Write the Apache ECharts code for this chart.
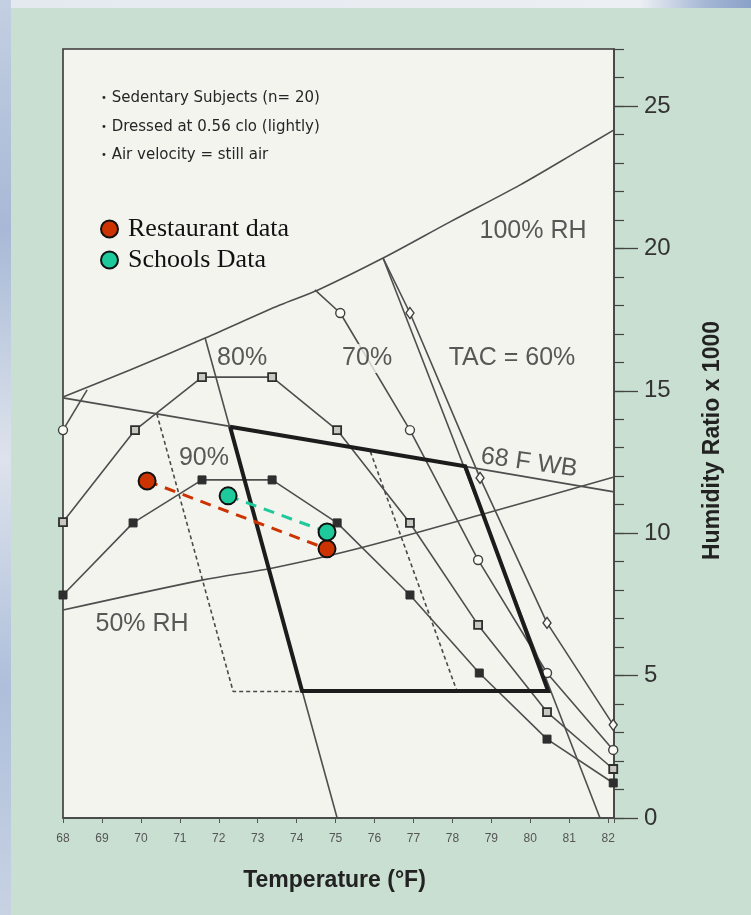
<!DOCTYPE html>
<html>
<head>
<meta charset="utf-8">
<script src="https://cdn.jsdelivr.net/npm/echarts@6/dist/echarts.min.js"></script>
<style>
  html, body { margin: 0; padding: 0; width: 751px; height: 915px; overflow: hidden; }
  body { background: linear-gradient(180deg, #c3cfe2 0%, #a7b9d6 25%, #dde3ec 50%, #aebfdb 75%, #c7d2e3 100%); }
  #topband { position: absolute; left: 11px; top: 0; right: 0; height: 8px;
             background: linear-gradient(90deg, #e4e9f0 0%, #eceff3 85%, #a4b6d4 94%, #8aa1c8 100%); }
  #panel { position: absolute; left: 11px; top: 8px; right: 0; bottom: 0; background: #c9dfd1; }
  #chart { position: absolute; left: 0; top: 0; width: 751px; height: 915px; }
</style>
</head>
<body>
<div id="topband"></div>
<div id="panel"></div>
<div id="chart"></div>
<script>
// ---- Psychrometric reference curves: [dry-bulb °F, humidity ratio x 1000] ----
const rh100Curve = [[68.00, 14.78], [69.72, 15.73], [71.65, 16.85], [73.57, 18.01], [74.55, 18.54],
                    [76.22, 19.66], [77.94, 20.93], [79.74, 22.23], [81.28, 23.46], [82.15, 24.16]];
const rh50Curve  = [[68.00, 7.30], [71.60, 8.36], [73.39, 8.78], [75.63, 9.48], [78.89, 10.71], [82.15, 11.97]];
const wetBulb68  = [[68.00, 14.75], [82.15, 11.45]];

// Comfort zone outlines
const comfortZone     = [[72.29, 13.74], [78.33, 12.35], [80.46, 4.46], [74.14, 4.46], [72.29, 13.74]];
const comfortLeftLine = [[71.65, 16.85], [75.04, 0]];
const tac60Edge       = [[76.22, 19.66], [81.79, 0]];
const winterZone      = [[70.41, 14.19], [72.37, 4.44], [78.12, 4.44], [75.89, 12.88]];

// Thermal acceptability contours
const tac60      = [[76.22, 19.66], [76.91, 17.73], [78.71, 11.94], [80.43, 6.85], [82.13, 3.27]];
const tac70Left  = [[68.00, 13.62], [68.62, 15.03]];
const tac70Right = [[74.47, 18.54], [75.12, 17.73], [76.91, 13.62], [78.66, 9.06], [80.43, 5.09], [82.13, 2.39]];
const tac80      = [[68.00, 10.39], [69.85, 13.62], [71.57, 15.48], [73.37, 15.48], [75.04, 13.62],
                    [76.91, 10.36], [78.66, 6.78], [80.43, 3.72], [82.13, 1.72]];
const tac90      = [[68.00, 7.83], [69.80, 10.36], [71.57, 11.87], [73.37, 11.87], [75.04, 10.36],
                    [76.91, 7.83], [78.69, 5.09], [80.43, 2.77], [82.13, 1.23]];

// Measured conditions
const restaurantData = [[70.16, 11.83], [74.78, 9.45]];
const schoolsData    = [[72.24, 11.31], [74.78, 10.04]];

// Axis ticks
const tempMin = 68, tempMax = 82.15;
const humidityMax = 27;
const humidityLabels = [0, 5, 10, 15, 20, 25];

// Text annotations
const notes = ['Sedentary Subjects (n= 20)', 'Dressed at 0.56 clo (lightly)', 'Air velocity = still air'];
const curveLabels = [
  { name: '100% RH',   value: [80.07, 20.61] },
  { name: '80%',       value: [72.60, 16.13] },
  { name: '70%',       value: [75.81, 16.13] },
  { name: 'TAC = 60%', value: [79.53, 16.13] },
  { name: '90%',       value: [71.62, 12.65] },
  { name: '68 F WB',   value: [79.97, 12.47] },
  { name: '50% RH',    value: [70.03, 6.82] }
];

const PLOT_BG = '#f3f4ee';
const INK = '#4e4e4e';
const SANS = 'Liberation Sans';

function plainLine(data, extra) {
  return Object.assign({
    type: 'line', data: data, showSymbol: false, symbol: 'none', z: 2,
    lineStyle: { color: INK, width: 1.6 }, silent: true
  }, extra || {});
}

// Marked contour: points listed in `bare` are drawn without a marker
function markedLine(data, marker, bare) {
  return {
    type: 'line', z: 3, silent: true,
    data: data.map((p, i) => bare.indexOf(i) >= 0 ? { value: p, symbol: 'none' } : { value: p }),
    symbol: marker.symbol, symbolSize: marker.size, showSymbol: true,
    itemStyle: marker.style,
    lineStyle: { color: INK, width: 1.6 }
  };
}

const openCircle  = { symbol: 'circle',  size: 9,       style: { color: '#fbfbf6', borderColor: '#404040', borderWidth: 1.4 } };
const openDiamond = { symbol: 'diamond', size: [8, 11], style: { color: '#fbfbf6', borderColor: '#404040', borderWidth: 1.4 } };
const halfSquare  = { symbol: 'rect',    size: 8,       style: { color: '#c8c8c0', borderColor: '#2e2e2e', borderWidth: 1.8 } };
const solidSquare = { symbol: 'rect',    size: 8,       style: { color: '#2e2e2e', borderColor: '#2e2e2e', borderWidth: 1 } };

const RED = '#cc3300', TEAL = '#1ec99b';

const chart = echarts.init(document.getElementById('chart'), null, { renderer: 'canvas' });
chart.setOption({
  animation: false,
  backgroundColor: 'transparent',
  grid: {
    left: 63, right: 137, top: 49, bottom: 97, show: true,
    backgroundColor: PLOT_BG, borderColor: '#383838', borderWidth: 1.6
  },
  xAxis: {
    type: 'value', min: tempMin, max: tempMax, interval: 1,
    name: 'Temperature (°F)', nameLocation: 'middle', nameGap: 51,
    nameTextStyle: { fontFamily: SANS, fontSize: 23, fontWeight: 'bold', color: '#222', padding: [0, 8, 0, 0] },
    axisLine: { show: true, lineStyle: { color: '#444', width: 1.5 } },
    axisTick: { show: true, length: 5, lineStyle: { color: '#555' } },
    axisLabel: { fontFamily: SANS, fontSize: 12, color: '#555', margin: 15,
                 formatter: v => Number.isInteger(v) ? String(v) : '' },
    splitLine: { show: false }
  },
  yAxis: [
    {
      type: 'value', position: 'right', min: 0, max: humidityMax, interval: 5,
      name: 'Humidity Ratio x 1000', nameLocation: 'middle', nameRotate: 90, nameGap: 87,
      nameTextStyle: { fontFamily: SANS, fontSize: 23, fontWeight: 'bold', color: '#222', padding: [0, 14, 0, 0] },
      axisLine: { show: true, lineStyle: { color: '#444', width: 1.5 } },
      axisTick: { show: true, length: 24, customValues: humidityLabels, lineStyle: { color: '#444', width: 1.3 } },
      axisLabel: { fontFamily: SANS, fontSize: 24, color: '#333', margin: 30, customValues: humidityLabels },
      splitLine: { show: false }
    },
    {
      type: 'value', position: 'right', min: 0, max: humidityMax, interval: 1,
      axisLine: { show: false },
      axisTick: { show: true, length: 10, lineStyle: { color: '#444', width: 1.2 } },
      axisLabel: { show: false },
      splitLine: { show: false }
    }
  ],
  legend: {
    left: 95, top: 211, orient: 'vertical', itemWidth: 17, itemHeight: 17, itemGap: 5,
    icon: 'circle', selectedMode: false,
    textStyle: { fontFamily: 'Liberation Serif', fontSize: 26, color: '#111', padding: [0, 0, 0, 5] },
    data: [
      { name: 'Restaurant data', itemStyle: { color: RED, borderColor: '#111', borderWidth: 2 } },
      { name: 'Schools Data', itemStyle: { color: TEAL, borderColor: '#111', borderWidth: 2 } }
    ]
  },
  graphic: notes.map((t, i) => ({
    type: 'text', left: 101, top: 91 + i * 28.5, silent: true,
    style: {
      text: '{b|•} ' + t, font: '15px "DejaVu Sans"', fill: '#262626',
      rich: { b: { font: '10px "DejaVu Sans"', fill: '#262626' } }
    }
  })),
  series: [
    plainLine(rh100Curve, { smooth: 0.3 }),
    plainLine(rh50Curve, { smooth: 0.3 }),
    plainLine(wetBulb68),
    plainLine(comfortLeftLine),
    plainLine(tac60Edge),
    plainLine(winterZone, { lineStyle: { color: '#4a4a4a', width: 1.6, type: [4, 3] } }),
    plainLine(comfortZone, { z: 4, lineStyle: { color: '#1c1c1c', width: 4, join: 'miter' } }),
    markedLine(tac60, openDiamond, [0]),
    markedLine(tac70Left, openCircle, [1]),
    markedLine(tac70Right, openCircle, [0]),
    markedLine(tac80, halfSquare, []),
    markedLine(tac90, solidSquare, []),
    {
      type: 'scatter', z: 5, silent: true, symbolSize: 1,
      itemStyle: { color: 'rgba(0,0,0,0)' },
      data: curveLabels.map(d => {
        const item = { name: d.name, value: d.value };
        if (d.name === '70%') item.label = { backgroundColor: PLOT_BG, padding: [2, 3] };
        if (d.name === '68 F WB') item.label = { rotate: -8 };
        return item;
      }),
      label: { show: true, position: 'inside', formatter: p => p.name,
               fontFamily: SANS, fontSize: 25, color: '#303030' }
    },
    {
      name: 'Restaurant data', type: 'line', z: 6, data: restaurantData,
      symbol: 'circle', symbolSize: 17, showSymbol: true,
      itemStyle: { color: RED, borderColor: '#111', borderWidth: 2 },
      lineStyle: { color: RED, width: 3, type: [11, 8] }
    },
    {
      name: 'Schools Data', type: 'line', z: 6, data: schoolsData,
      symbol: 'circle', symbolSize: 17, showSymbol: true,
      itemStyle: { color: TEAL, borderColor: '#111', borderWidth: 2 },
      lineStyle: { color: TEAL, width: 3, type: [11, 8] }
    }
  ]
});
</script>
</body>
</html>
